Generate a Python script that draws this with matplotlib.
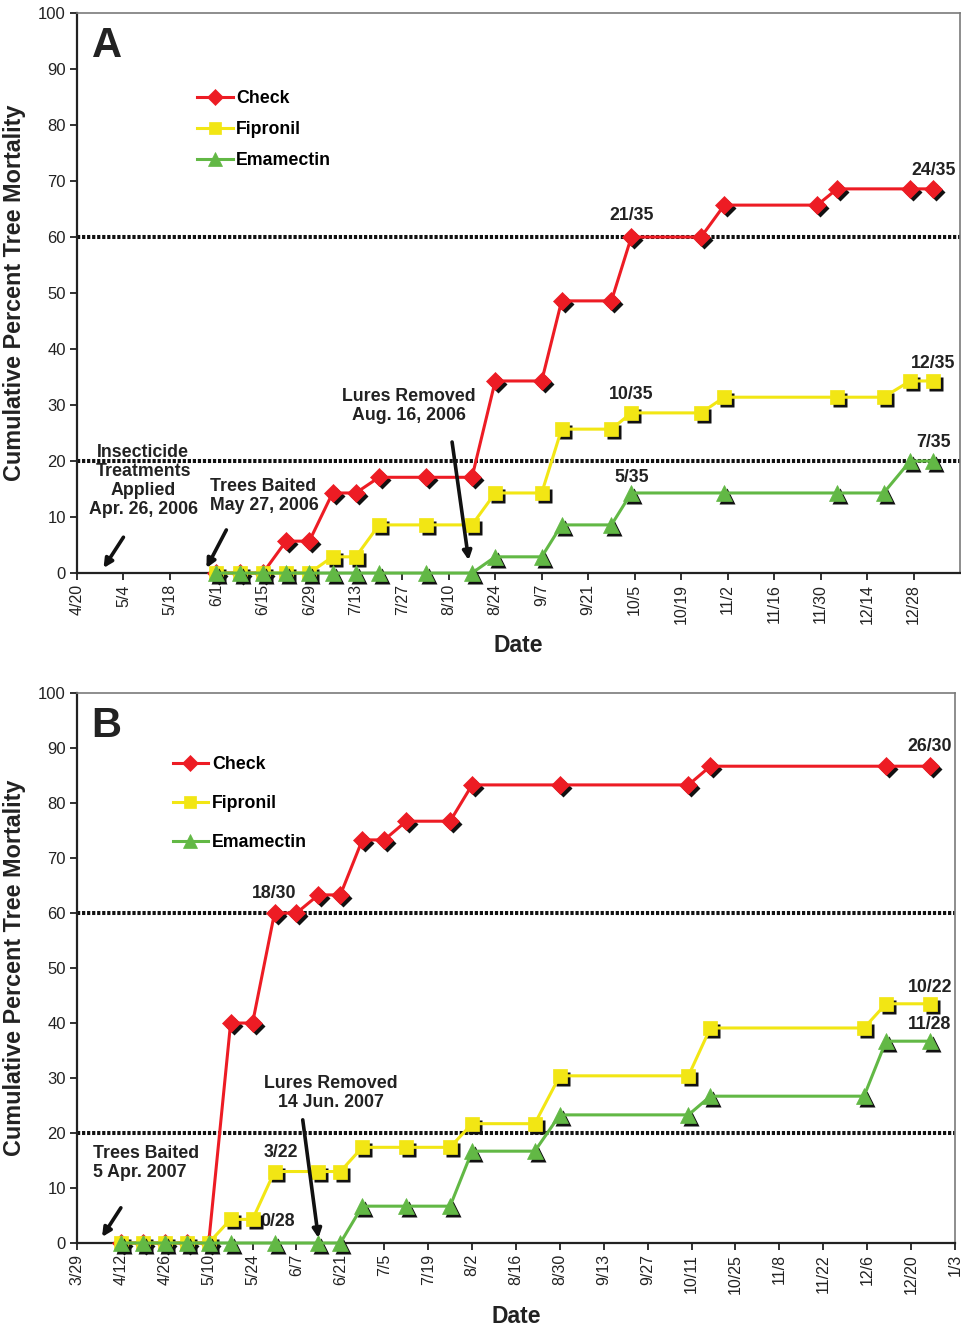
import numpy as np
import matplotlib
matplotlib.use('Agg')
import matplotlib.pyplot as plt
import matplotlib.dates as mdates
import matplotlib.transforms as mtrans

plt.rcParams['font.family'] = ['Liberation Sans', 'DejaVu Sans']

#panel A: 2006 season, percent of 35 trees
a_check_dates = ['2006-06-01','2006-06-08','2006-06-15','2006-06-22','2006-06-29','2006-07-06','2006-07-13',
                 '2006-07-20','2006-08-03','2006-08-17','2006-08-24','2006-09-07','2006-09-13','2006-09-28',
                 '2006-10-04','2006-10-25','2006-11-01','2006-11-29','2006-12-05','2006-12-27','2007-01-03']
a_check = [0,0,0,5.7,5.7,14.3,14.3,17.1,17.1,17.1,34.3,34.3,48.6,48.6,60.0,60.0,65.7,65.7,68.6,68.6,68.6]
a_fip_dates = ['2006-06-01','2006-06-08','2006-06-15','2006-06-22','2006-06-29','2006-07-06','2006-07-13',
               '2006-07-20','2006-08-03','2006-08-17','2006-08-24','2006-09-07','2006-09-13','2006-09-28',
               '2006-10-04','2006-10-25','2006-11-01','2006-12-05','2006-12-19','2006-12-27','2007-01-03']
a_fip = [0,0,0,0,0,2.9,2.9,8.6,8.6,8.6,14.3,14.3,25.7,25.7,28.6,28.6,31.4,31.4,31.4,34.3,34.3]
a_ema_dates = ['2006-06-01','2006-06-08','2006-06-15','2006-06-22','2006-06-29','2006-07-06','2006-07-13',
               '2006-07-20','2006-08-03','2006-08-17','2006-08-24','2006-09-07','2006-09-13','2006-09-28',
               '2006-10-04','2006-11-01','2006-12-05','2006-12-19','2006-12-27','2007-01-03']
a_ema = [0,0,0,0,0,0,0,0,0,0,2.9,2.9,8.6,8.6,14.3,14.3,14.3,14.3,20.0,20.0]

#panel B: 2007 season
b_check_dates = ['2007-04-12','2007-04-19','2007-04-26','2007-05-03','2007-05-10','2007-05-17','2007-05-24',
                 '2007-05-31','2007-06-07','2007-06-14','2007-06-21','2007-06-28','2007-07-05','2007-07-12',
                 '2007-07-26','2007-08-02','2007-08-30','2007-10-10','2007-10-17','2007-12-12','2007-12-26']
b_check = [0,0,0,0,0,40.0,40.0,60.0,60.0,63.3,63.3,73.3,73.3,76.7,76.7,83.3,83.3,83.3,86.7,86.7,86.7]
b_fip_dates = ['2007-04-12','2007-04-19','2007-04-26','2007-05-03','2007-05-10','2007-05-17','2007-05-24',
               '2007-05-31','2007-06-14','2007-06-21','2007-06-28','2007-07-12','2007-07-26','2007-08-02',
               '2007-08-22','2007-08-30','2007-10-10','2007-10-17','2007-12-05','2007-12-12','2007-12-26']
b_fip = [0,0,0,0,0,4.3,4.3,13.0,13.0,13.0,17.4,17.4,17.4,21.7,21.7,30.4,30.4,39.1,39.1,43.5,43.5]
b_ema_dates = ['2007-04-12','2007-04-19','2007-04-26','2007-05-03','2007-05-10','2007-05-17','2007-05-31',
               '2007-06-14','2007-06-21','2007-06-28','2007-07-12','2007-07-26','2007-08-02','2007-08-22',
               '2007-08-30','2007-10-10','2007-10-17','2007-12-05','2007-12-12','2007-12-26']
b_ema = [0,0,0,0,0,0,0,0,0,6.7,6.7,6.7,16.7,16.7,23.3,23.3,26.7,26.7,36.7,36.7]

labels = ['Check', 'Fipronil', 'Emamectin']
colors = ['#ED1C24', '#F2E614', '#62B845']
markers = ['D', 's', '^']
msizes = [9, 10, 11]

def d(s):
    return mdates.datestr2num(s)

def md(v, pos=None):
    t = mdates.num2date(v)
    return "%d/%d" % (t.month, t.day)

fig = plt.figure(figsize=(9.62, 13.29), dpi=100)
axA = fig.add_axes([0.0800, 0.5688, 0.9179, 0.4214])
axB = fig.add_axes([0.0800, 0.0647, 0.9127, 0.4138])

def setup(ax, start, end, last_tick):
    ax.set_xlim(d(start), d(end))
    ax.set_ylim(0, 100)
    ax.set_xticks(np.arange(d(start), d(last_tick) + 1, 14))
    ax.xaxis.set_major_formatter(plt.FuncFormatter(md))
    ax.set_yticks(np.arange(0, 101, 10))
    ax.tick_params(axis='x', labelrotation=90, labelsize=11.5, length=5, width=1.3, colors='#222222', pad=3)
    ax.tick_params(axis='y', labelsize=12, length=5, width=1.3, colors='#222222', pad=3)
    for s in ['left', 'bottom']:
        ax.spines[s].set_linewidth(1.6)
        ax.spines[s].set_color('#222222')
    for s in ['top', 'right']:
        ax.spines[s].set_linewidth(1.2)
        ax.spines[s].set_color('#7a7a7a')
    ax.axhline(60, color='#111111', lw=2.9, ls=(0, (0.8, 0.45)), zorder=1)
    ax.axhline(20, color='#111111', lw=2.9, ls=(0, (0.8, 0.45)), zorder=1)
    ax.set_xlabel('Date', fontsize=16.5, fontweight='bold', color='#222222', va='top')
    ax.set_ylabel('Cumulative Percent Tree Mortality', fontsize=16.8, fontweight='bold', color='#222222')

def draw(ax, dates_list, vals_list):
    shadow = mtrans.offset_copy(ax.transData, fig=fig, x=3, y=-3, units='dots')
    handles = []
    for i in range(3):
        x = [d(s) for s in dates_list[i]]
        ax.plot(x, vals_list[i], ls='none', marker=markers[i], ms=msizes[i], color='#111111',
                mec='none', transform=shadow, zorder=3 + 2 * i, clip_on=False)
        h, = ax.plot(x, vals_list[i], color=colors[i], lw=2.2, marker=markers[i], ms=msizes[i],
                     mec=colors[i], mew=0.5, zorder=4 + 2 * i, clip_on=False, label=labels[i])
        handles.append(h)
    return handles

def txt(ax, date, y, s, **kw):
    ax.text(d(date), y, s, fontsize=12.8, fontweight='bold', color='#222222', zorder=2, **kw)

def arrow(ax, d0, y0, d1, y1):
    ax.annotate('', xy=(d(d1), y1), xytext=(d(d0), y0),
                arrowprops=dict(arrowstyle='-|>', color='#111111', lw=2.6, mutation_scale=13,
                                shrinkA=0, shrinkB=0), zorder=12)

#panel A
setup(axA, '2006-04-20', '2007-01-11', '2006-12-28')
hA = draw(axA, [a_check_dates, a_fip_dates, a_ema_dates], [a_check, a_fip, a_ema])
axA.legend(handles=hA, loc='upper left', bbox_to_anchor=(0.136, 0.862), frameon=False, numpoints=1,
           prop=dict(weight='bold', size=12.8), borderpad=0, borderaxespad=0, handlelength=2.0,
           handletextpad=0.2, labelspacing=0.78, markerscale=0.9)
axA.text(0.017, 0.921, 'A', transform=axA.transAxes, fontsize=30, fontweight='bold', color='#222222')
txt(axA, '2007-01-03', 71.8, '24/35', ha='center', va='center')
txt(axA, '2006-10-04', 63.9, '21/35', ha='center', va='center')
txt(axA, '2007-01-03', 37.5, '12/35', ha='center', va='center')
txt(axA, '2006-10-04', 31.8, '10/35', ha='center', va='center')
txt(axA, '2007-01-03', 23.4, '7/35', ha='center', va='center')
txt(axA, '2006-10-04', 17.1, '5/35', ha='center', va='center')
txt(axA, '2006-07-29', 29.8, 'Lures Removed\nAug. 16, 2006', ha='center', va='center', linespacing=1.15)
txt(axA, '2006-05-10', 16.4, 'Insecticide\nTreatments\nApplied\nApr. 26, 2006', ha='center', va='center',
    linespacing=1.15)
txt(axA, '2006-05-30', 13.8, 'Trees Baited\nMay 27, 2006', ha='left', va='center', linespacing=1.15)
arrow(axA, '2006-08-11', 23.4, '2006-08-16', 2.3)
arrow(axA, '2006-05-04', 6.4, '2006-04-28', 0.9)
arrow(axA, '2006-06-04', 7.7, '2006-05-29', 0.9)
axA.xaxis.set_label_coords(0.5, -0.109)
axA.yaxis.set_label_coords(-0.058, 0.5)

#panel B
setup(axB, '2007-03-29', '2008-01-03', '2008-01-03')
hB = draw(axB, [b_check_dates, b_fip_dates, b_ema_dates], [b_check, b_fip, b_ema])
axB.legend(handles=hB, loc='upper left', bbox_to_anchor=(0.109, 0.886), frameon=False, numpoints=1,
           prop=dict(weight='bold', size=12.8), borderpad=0, borderaxespad=0, handlelength=2.0,
           handletextpad=0.2, labelspacing=1.25, markerscale=0.9)
axB.text(0.016, 0.92, 'B', transform=axB.transAxes, fontsize=30, fontweight='bold', color='#222222')
txt(axB, '2007-12-26', 90.2, '26/30', ha='center', va='center')
txt(axB, '2007-12-26', 46.5, '10/22', ha='center', va='center')
txt(axB, '2007-12-26', 39.8, '11/28', ha='center', va='center')
txt(axB, '2007-05-31', 63.5, '18/30', ha='center', va='center')
txt(axB, '2007-06-02', 16.5, '3/22', ha='center', va='center')
txt(axB, '2007-06-01', 3.9, '0/28', ha='center', va='center')
txt(axB, '2007-06-18', 27.3, 'Lures Removed\n14 Jun. 2007', ha='center', va='center', linespacing=1.15)
txt(axB, '2007-04-03', 14.5, 'Trees Baited\n5 Apr. 2007', ha='left', va='center', linespacing=1.15)
arrow(axB, '2007-06-09', 22.4, '2007-06-14', 0.9)
arrow(axB, '2007-04-12', 6.4, '2007-04-06', 1.1)
axB.xaxis.set_label_coords(0.5, -0.113)
axB.yaxis.set_label_coords(-0.058, 0.5)

fig.savefig('out.png', dpi=100)
